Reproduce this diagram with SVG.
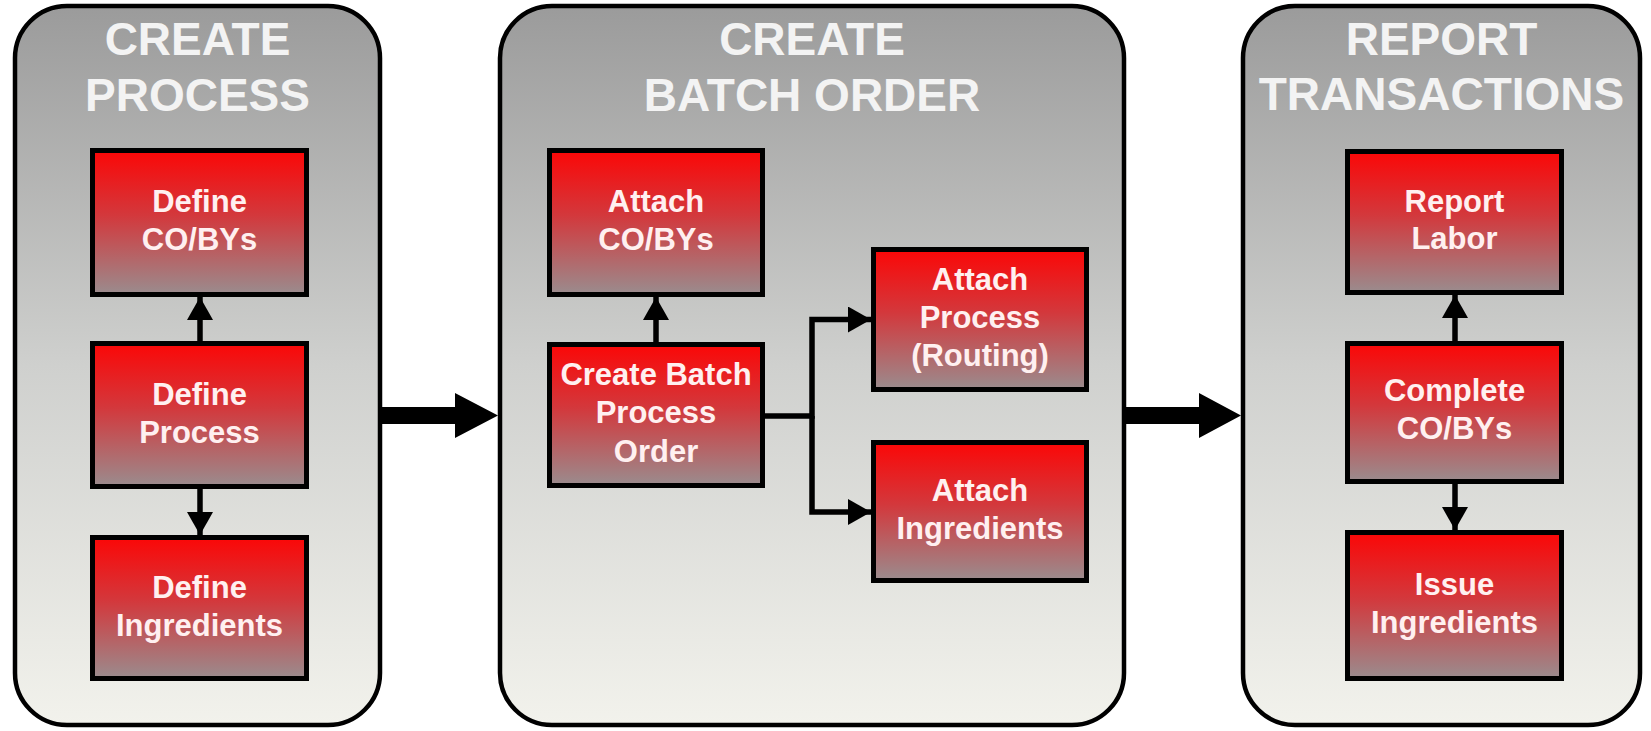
<svg xmlns="http://www.w3.org/2000/svg" width="1651" height="731" viewBox="0 0 1651 731">
<defs>
<linearGradient id="panelGrad" x1="0" y1="0" x2="0" y2="1">
<stop offset="0" stop-color="#9b9b9b"/>
<stop offset="0.5" stop-color="#cfd0ce"/>
<stop offset="1" stop-color="#f2f2ec"/>
</linearGradient>
<linearGradient id="boxGrad" x1="0" y1="0" x2="0" y2="1">
<stop offset="0" stop-color="#fb0707"/>
<stop offset="0.45" stop-color="#d3383c"/>
<stop offset="1" stop-color="#9a8c8e"/>
</linearGradient>
<marker id="ah" markerUnits="userSpaceOnUse" markerWidth="26" markerHeight="26" refX="23" refY="13" orient="auto" viewBox="0 0 26 26">
<path d="M0,0 L23,13 L0,26 Z" fill="#000"/>
</marker>
</defs>
<style>
.panel{fill:url(#panelGrad);stroke:#000;stroke-width:4.5}
.box{fill:url(#boxGrad);stroke:#000;stroke-width:5}
.title{font-family:"Liberation Sans",Arial,sans-serif;font-weight:bold;font-size:46px;fill:#f3f3f3;text-anchor:middle}
.lbl{font-family:"Liberation Sans",Arial,sans-serif;font-weight:bold;font-size:31px;fill:#fff0f0;text-anchor:middle}
.conn{fill:none;stroke:#000;stroke-width:5.5}
.big{fill:#000}
</style>

<g id="panel-create-process">
<rect class="panel" x="15" y="6" width="365" height="719" rx="52" ry="52"/>
<text class="title" x="197.5" y="55">CREATE</text>
<text class="title" x="197.5" y="111">PROCESS</text>
</g>
<g id="panel-create-batch-order">
<rect class="panel" x="500" y="6" width="624" height="719" rx="52" ry="52"/>
<text class="title" x="812" y="55">CREATE</text>
<text class="title" x="812" y="111">BATCH ORDER</text>
</g>
<g id="panel-report-transactions">
<rect class="panel" x="1243" y="6" width="397" height="719" rx="52" ry="52"/>
<text class="title" x="1441.5" y="55">REPORT</text>
<text class="title" x="1441.5" y="110">TRANSACTIONS</text>
</g>

<g id="define-cobys">
<rect class="box" x="92.5" y="150.5" width="214" height="144"/>
<text class="lbl" x="199.5" y="212">Define</text>
<text class="lbl" x="199.5" y="250">CO/BYs</text>
</g>
<g id="define-process">
<rect class="box" x="92.5" y="343.5" width="214" height="143"/>
<text class="lbl" x="199.5" y="405">Define</text>
<text class="lbl" x="199.5" y="443">Process</text>
</g>
<g id="define-ingredients">
<rect class="box" x="92.5" y="537.5" width="214" height="141"/>
<text class="lbl" x="199.5" y="598">Define</text>
<text class="lbl" x="199.5" y="636">Ingredients</text>
</g>

<g id="attach-cobys">
<rect class="box" x="549.5" y="150.5" width="213" height="144"/>
<text class="lbl" x="656" y="212">Attach</text>
<text class="lbl" x="656" y="250">CO/BYs</text>
</g>
<g id="create-batch-process-order">
<rect class="box" x="549.5" y="344.5" width="213" height="141"/>
<text class="lbl" x="656" y="385">Create Batch</text>
<text class="lbl" x="656" y="423">Process</text>
<text class="lbl" x="656" y="462">Order</text>
</g>
<g id="attach-process-routing">
<rect class="box" x="873.5" y="249.5" width="213" height="140"/>
<text class="lbl" x="980" y="290">Attach</text>
<text class="lbl" x="980" y="328">Process</text>
<text class="lbl" x="980" y="366">(Routing)</text>
</g>
<g id="attach-ingredients">
<rect class="box" x="873.5" y="442.5" width="213" height="138"/>
<text class="lbl" x="980" y="501">Attach</text>
<text class="lbl" x="980" y="539">Ingredients</text>
</g>

<g id="report-labor">
<rect class="box" x="1347.5" y="151.5" width="214" height="141"/>
<text class="lbl" x="1454.5" y="212">Report</text>
<text class="lbl" x="1454.5" y="249">Labor</text>
</g>
<g id="complete-cobys">
<rect class="box" x="1347.5" y="343.5" width="214" height="138"/>
<text class="lbl" x="1454.5" y="401">Complete</text>
<text class="lbl" x="1454.5" y="439">CO/BYs</text>
</g>
<g id="issue-ingredients">
<rect class="box" x="1347.5" y="532.5" width="214" height="146"/>
<text class="lbl" x="1454.5" y="595">Issue</text>
<text class="lbl" x="1454.5" y="633">Ingredients</text>
</g>

<g id="connectors">
<line class="conn" x1="200" y1="341" x2="200" y2="297" marker-end="url(#ah)"/>
<line class="conn" x1="200" y1="489" x2="200" y2="535" marker-end="url(#ah)"/>
<line class="conn" x1="656" y1="342" x2="656" y2="297" marker-end="url(#ah)"/>
<polyline class="conn" points="765,416 812,416 812,319.5 871,319.5" marker-end="url(#ah)"/>
<polyline class="conn" points="812,416 812,512 871,512" marker-end="url(#ah)"/>
<line class="conn" x1="1455" y1="341" x2="1455" y2="295" marker-end="url(#ah)"/>
<line class="conn" x1="1455" y1="484" x2="1455" y2="530" marker-end="url(#ah)"/>
<path class="big" d="M382,407 L455,407 L455,393 L498,415.5 L455,438 L455,424 L382,424 Z"/>
<path class="big" d="M1126,407 L1199,407 L1199,393 L1241,415.5 L1199,438 L1199,424 L1126,424 Z"/>
</g>
</svg>
